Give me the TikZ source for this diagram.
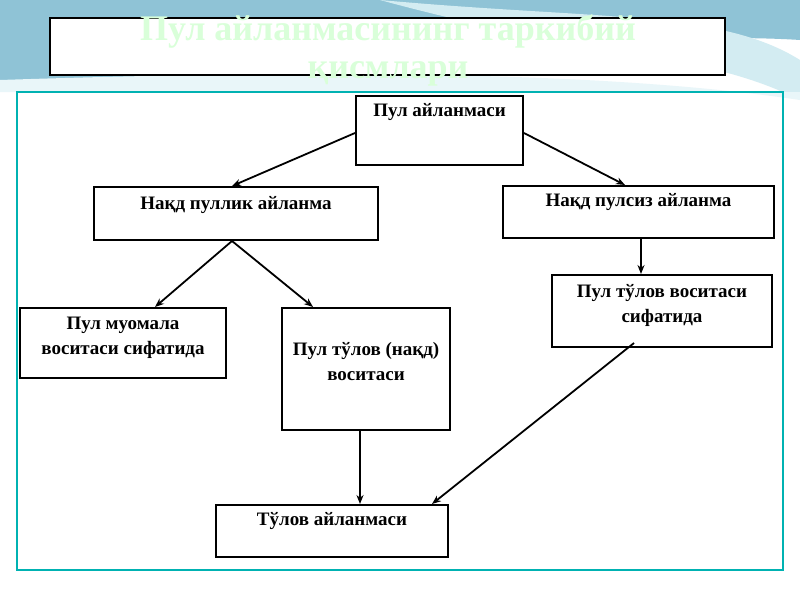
\documentclass[tikz,border=0pt]{standalone}
\usepackage{fontspec}
\setmainfont{Liberation Serif}
\usetikzlibrary{arrows.meta}
\definecolor{bgblue}{HTML}{8FC3D6}
\definecolor{bglight}{HTML}{D3ECF2}
\begin{document}
\begin{tikzpicture}[x=1pt,y=-1pt,
  box/.style={draw=black,line width=2pt,fill=white,inner sep=0pt},
  lbl/.style={font=\fontsize{19}{25}\selectfont\bfseries,align=center,anchor=north,inner sep=0pt},
  arr/.style={-{Stealth[length=9pt,width=7pt]},line width=1.8pt}]
\useasboundingbox (0,0) rectangle (800,600);
\fill[white] (0,0) rectangle (800,600);
% background decoration
\fill[bgblue] (0,0) -- (800,0) -- (800,40) .. controls (650,30) and (300,60) .. (0,90) -- cycle;
\fill[bglight] (380,0) .. controls (600,20) and (720,10) .. (800,60) -- (800,100) .. controls (700,50) and (600,60) .. (380,0);
\fill[bglight!50!white] (0,80) .. controls (300,70) and (600,70) .. (800,100) -- (800,92) -- (0,92) -- cycle;
% title box
\node[draw=black,line width=2.5pt,fill=white,minimum width=675,minimum height=57,inner sep=0pt] (title) at (387.5,46.5) {};
\node[font=\fontsize{36}{38}\selectfont\bfseries,text=green!15!white,align=center,inner sep=0pt] (ttext) at (388,50) {Пул айланмасининг таркибий\\қисмлари};
% frame
\node[draw=teal!60!cyan,line width=1.3pt,minimum width=766,minimum height=478,inner sep=0pt] (frame) at (400,331) {};
% boxes
\node[box,minimum width=167,minimum height=69] (a) at (439.5,130.5) {};
\node[box,minimum width=284,minimum height=53] (b) at (236,213.5) {};
\node[box,minimum width=271,minimum height=52] (c) at (638.5,212) {};
\node[box,minimum width=206,minimum height=70] (d) at (123,343) {};
\node[box,minimum width=168,minimum height=122] (e) at (366,369) {};
\node[box,minimum width=220,minimum height=72] (f) at (662,311) {};
\node[box,minimum width=232,minimum height=52] (g) at (332,531) {};
\node[lbl] (ta) at (439.5,103) {Пул айланмаси};
\node[lbl] (tb) at (236,196) {Нақд пуллик айланма};
\node[lbl] (tc) at (638.5,193) {Нақд пулсиз айланма};
\node[lbl] (td) at (123,317) {Пул муомала\\воситаси сифатида};
\node[lbl] (te) at (366,342) {Пул тўлов (нақд)\\воситаси};
\node[lbl] (tf) at (662,284) {Пул тўлов воситаси\\сифатида};
\node[lbl] (tg) at (332,512) {Тўлов айланмаси};
% connectors
\draw[arr] ([yshift=-2.5]a.west) -- ([xshift=-4]b.north);
\draw[arr] ([yshift=-2.5]a.east) -- ([xshift=-13.5]c.north);
\draw[arr] ([xshift=-4]b.south) -- ([xshift=32]d.north);
\draw[arr] ([xshift=-4]b.south) -- ([xshift=-53]e.north);
\draw[arr] ([xshift=2.5]c.south) -- ([xshift=-21]f.north);
\draw[arr] ([xshift=-6]e.south) -- ([xshift=28]g.north);
\draw[arr] ([xshift=-28,yshift=5]f.south) -- ([xshift=100]g.north);
\end{tikzpicture}
\end{document}
